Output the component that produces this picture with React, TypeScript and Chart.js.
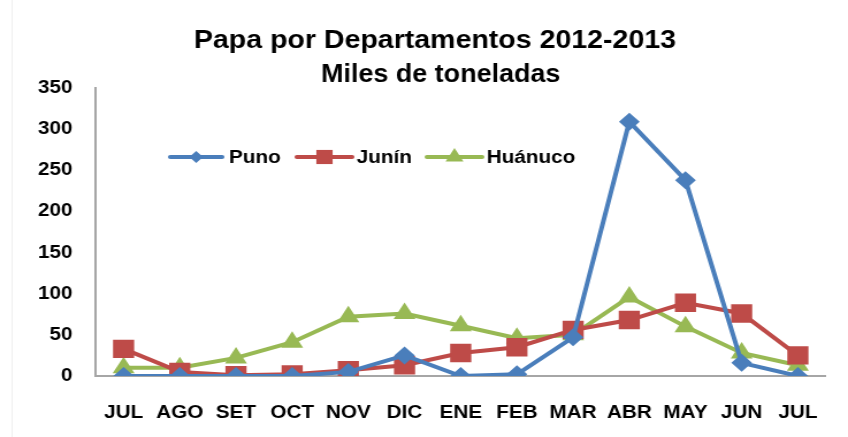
import React, { useEffect, useRef } from "react";
import { Chart, registerables } from "chart.js";

Chart.register(...registerables);

const categories = ["JUL", "AGO", "SET", "OCT", "NOV", "DIC", "ENE", "FEB", "MAR", "ABR", "MAY", "JUN", "JUL"];
const puno = [0, 0, 0, 0, 5, 25, 0, 2, 47, 309, 238, 16, 0];
const junin = [33, 5, 1, 2, 7, 13, 28, 35, 56, 68, 89, 76, 25];
const huanuco = [10, 10, 22, 41, 72, 76, 61, 46, 50, 96, 60, 28, 13];
const yTicks = [0, 50, 100, 150, 200, 250, 300, 350];
const titleLines = ["Papa por Departamentos 2012-2013", "Miles de toneladas"];

const BLUE = "#4A7EBB";
const RED = "#BE4B48";
const GREEN = "#98B954";
const FONT = "'Liberation Sans', Arial, sans-serif";

// The reference image is horizontally stretched; we render on a narrower canvas and stretch it.
const DISPLAY_W = 848;
const DISPLAY_H = 437;
const STRETCH = 1.15;
const W = Math.round(DISPLAY_W / STRETCH);

function drawMarker(ctx: CanvasRenderingContext2D, style: string, x: number, y: number, r: number, color: string) {
  ctx.save();
  ctx.fillStyle = color;
  ctx.beginPath();
  if (style === "rectRot") {
    ctx.moveTo(x, y - r);
    ctx.lineTo(x + r, y);
    ctx.lineTo(x, y + r);
    ctx.lineTo(x - r, y);
  } else if (style === "rect") {
    const s = r * Math.SQRT1_2;
    ctx.rect(x - s, y - s, 2 * s, 2 * s);
  } else {
    const a = (30 * Math.PI) / 180;
    ctx.moveTo(x, y - r);
    ctx.lineTo(x + Math.cos(a) * r, y + Math.sin(a) * r);
    ctx.lineTo(x - Math.cos(a) * r, y + Math.sin(a) * r);
  }
  ctx.closePath();
  ctx.fill();
  ctx.restore();
}

function fitText(ctx: CanvasRenderingContext2D, text: string, cx: number, y: number, targetW: number) {
  const w = ctx.measureText(text).width;
  const k = targetW / w;
  ctx.save();
  ctx.translate(cx, y);
  ctx.scale(k, 1);
  ctx.textAlign = "center";
  ctx.fillText(text, 0, 0);
  ctx.restore();
}

const decorPlugin = {
  id: "decor",
  afterDraw(chart: any) {
    const ctx: CanvasRenderingContext2D = chart.ctx;
    ctx.save();
    ctx.strokeStyle = "#EFEFEF";
    ctx.lineWidth = 1;
    ctx.beginPath();
    ctx.moveTo(10.5, 0);
    ctx.lineTo(10.5, chart.height);
    ctx.stroke();
    // title
    ctx.fillStyle = "#000";
    ctx.textBaseline = "alphabetic";
    ctx.font = `bold 25px ${FONT}`;
    fitText(ctx, titleLines[0], 378, 48, 419);
    fitText(ctx, titleLines[1], 383, 82, 208);
    // legend
    const items = [
      { label: chart.data.datasets[0].label, color: BLUE, style: "rectRot", r: 6, x0: 148, x1: 193, tx: 199 },
      { label: chart.data.datasets[1].label, color: RED, style: "rect", r: 10, x0: 258, x1: 306, tx: 310 },
      { label: chart.data.datasets[2].label, color: GREEN, style: "triangle", r: 9, x0: 371, x1: 419, tx: 423 },
    ];
    const ly = 157;
    ctx.font = `bold 18px ${FONT}`;
    ctx.textAlign = "left";
    ctx.textBaseline = "middle";
    for (const it of items) {
      ctx.strokeStyle = it.color;
      ctx.lineWidth = 4;
      ctx.lineCap = "round";
      ctx.beginPath();
      ctx.moveTo(it.x0, ly);
      ctx.lineTo(it.x1, ly);
      ctx.stroke();
      drawMarker(ctx, it.style, (it.x0 + it.x1) / 2, ly, it.r, it.color);
      ctx.fillStyle = "#000";
      ctx.fillText(it.label, it.tx, ly + 1);
    }
    ctx.restore();
  },
};

export default function App() {
  const ref = useRef<HTMLCanvasElement | null>(null);
  useEffect(() => {
    document.body.style.margin = "0";
    const canvas = ref.current;
    if (!canvas) return;
    const chart = new Chart(canvas, {
      type: "line",
      data: {
        labels: categories,
        datasets: [
          {
            label: "Puno",
            data: puno,
            borderColor: BLUE,
            backgroundColor: BLUE,
            borderWidth: 4,
            pointStyle: "rectRot",
            pointRadius: 9,
            pointBorderWidth: 0,
            tension: 0,
          },
          {
            label: "Junín",
            data: junin,
            borderColor: RED,
            backgroundColor: RED,
            borderWidth: 4,
            pointStyle: "rect",
            pointRadius: 13,
            pointBorderWidth: 0,
            tension: 0,
          },
          {
            label: "Huánuco",
            data: huanuco,
            borderColor: GREEN,
            backgroundColor: GREEN,
            borderWidth: 4,
            pointStyle: "triangle",
            pointRadius: 11,
            pointBorderWidth: 0,
            tension: 0,
          },
        ],
      },
      options: {
        animation: false,
        responsive: false,
        devicePixelRatio: 1,
        layout: { padding: { top: 88, left: 0, right: W - 722, bottom: 0 } },
        plugins: {
          legend: { display: false },
          title: { display: false },
          tooltip: { enabled: false },
        },
        scales: {
          x: {
            type: "category",
            offset: true,
            grid: { display: false, drawTicks: false },
            border: { display: true, color: "#A6A6A6", width: 2 },
            ticks: {
              color: "#000",
              font: { family: FONT, size: 18, weight: "bold" },
              padding: 26,
              maxRotation: 0,
              autoSkip: false,
            },
            afterFit(scale: any) {
              scale.height = 61;
            },
          },
          y: {
            min: 0,
            max: 350,
            afterBuildTicks(scale: any) {
              scale.ticks = yTicks.map((v) => ({ value: v }));
            },
            grid: { display: false, drawTicks: false },
            border: { display: true, color: "#A6A6A6", width: 2 },
            ticks: {
              color: "#000",
              font: { family: FONT, size: 18, weight: "bold" },
              padding: 20,
            },
            afterFit(scale: any) {
              scale.width = 83;
            },
          },
        },
      },
      plugins: [decorPlugin],
    } as any);
    return () => chart.destroy();
  }, []);
  return (
    <canvas
      ref={ref}
      width={W}
      height={DISPLAY_H}
      style={{ display: "block", width: `${DISPLAY_W}px`, height: `${DISPLAY_H}px` }}
    />
  );
}
